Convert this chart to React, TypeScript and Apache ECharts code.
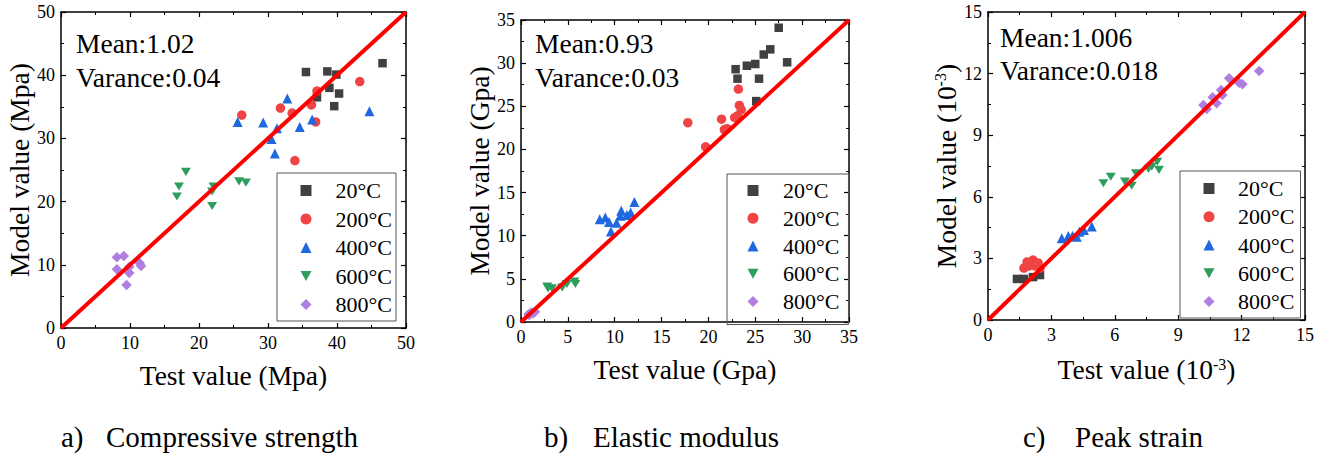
import React, { useEffect, useRef } from "react";
import * as echarts from "echarts";

const FONT = "Liberation Serif, Times New Roman, serif";

const tempNames = ["20°C", "200°C", "400°C", "600°C", "800°C"];
const colors = ["#404040", "#f04343", "#1f68e0", "#2e9e5e", "#b07ee0"];
const symbols = ["rect", "circle", "triangle", "path://M0,0L10,0L5,9Z", "diamond"];
const symbolSizes = [8.5, 9.5, 10, [10, 9], 10.5];

// a) Compressive strength (MPa): [test, model]
const cs20 = [[35.5, 40.5], [38.6, 40.6], [39.9, 40.1], [46.6, 41.9], [38.9, 38.0], [37.1, 36.5], [40.3, 37.1], [39.6, 35.1]];
const cs200 = [[26.2, 33.7], [31.8, 34.8], [33.5, 34.0], [33.9, 26.5], [36.3, 35.3], [37.1, 37.5], [36.9, 32.6], [43.3, 39.0]];
const cs400 = [[25.6, 32.6], [29.3, 32.5], [31.3, 31.6], [32.8, 36.3], [30.5, 29.9], [31.0, 27.6], [34.6, 31.8], [36.4, 33.0], [44.7, 34.3]];
const cs600 = [[18.1, 24.7], [17.1, 22.4], [16.8, 20.8], [22.1, 22.4], [21.9, 21.6], [21.9, 19.3], [25.8, 23.2], [26.8, 23.0]];
const cs800 = [[8.1, 11.2], [9.1, 11.4], [8.1, 9.3], [9.9, 9.7], [9.9, 8.7], [9.5, 6.8], [11.4, 10.3], [11.6, 9.8]];

// b) Elastic modulus (GPa)
const em20 = [[22.9, 29.3], [23.1, 28.2], [24.1, 29.7], [25.0, 29.9], [25.4, 28.2], [25.9, 31.0], [26.6, 31.6], [27.5, 34.1], [28.4, 30.1], [25.1, 25.6]];
const em200 = [[17.8, 23.1], [19.7, 20.3], [21.4, 23.5], [21.7, 22.3], [22.0, 22.4], [22.8, 23.7], [23.3, 25.1], [23.5, 24.6], [23.2, 27.0], [23.1, 23.9]];
const em400 = [[8.4, 11.9], [9.0, 12.1], [9.4, 11.6], [9.6, 10.5], [10.2, 11.5], [10.6, 12.3], [10.7, 12.9], [11.3, 12.4], [11.7, 12.7], [12.1, 13.9]];
const em600 = [[2.8, 4.1], [3.3, 3.9], [4.4, 4.0], [4.9, 4.4], [5.7, 4.7], [5.8, 4.4], [2.9, 3.9]];
const em800 = [[0.8, 0.9], [1.1, 1.1], [1.5, 1.2], [0.9, 0.8], [1.3, 1.0]];

// c) Peak strain (10^-3)
const ps20 = [[1.37, 2.0], [1.7, 2.0], [2.13, 2.09], [2.46, 2.19]];
const ps200 = [[1.7, 2.53], [1.85, 2.83], [2.13, 2.92], [2.37, 2.78], [2.46, 2.53], [1.94, 2.63], [2.22, 2.63]];
const ps400 = [[3.49, 3.98], [3.8, 4.09], [4.2, 4.06], [4.32, 4.3], [4.54, 4.38], [4.91, 4.55], [4.0, 4.1]];
const ps600 = [[5.46, 6.66], [5.81, 6.98], [6.48, 6.74], [6.8, 6.54], [7.0, 7.14], [7.59, 7.36], [7.75, 7.47], [8.01, 7.71], [8.09, 7.31]];
const ps800 = [[10.19, 10.47], [10.35, 10.28], [10.63, 10.85], [10.82, 10.55], [11.03, 11.2], [11.09, 10.96], [11.41, 11.77], [11.88, 11.56], [12.04, 11.48], [12.83, 12.13]];

const axisMax = [50, 35, 15];
const axisInterval = [10, 5, 3];
const xTitles = ["Test value (Mpa)", "Test value (Gpa)", "Test value (10{sup|-3})"];
const yTitles = ["Model value (Mpa)", "Model value (Gpa)", "Model value (10{sup|-3})"];
const meanTexts = ["Mean:1.02", "Mean:0.93", "Mean:1.006"];
const varTexts = ["Varance:0.04", "Varance:0.03", "Varance:0.018"];
const captionLetters = ["a)", "b)", "c)"];
const captionTexts = ["Compressive strength", "Elastic modulus", "Peak strain"];

const panelData = [
  [cs20, cs200, cs400, cs600, cs800],
  [em20, em200, em400, em600, em800],
  [ps20, ps200, ps400, ps600, ps800],
];

// layout (pixels)
const grids = [
  { left: 61, top: 12, width: 345, height: 316 },
  { left: 521, top: 20, width: 328, height: 302 },
  { left: 988, top: 12, width: 317, height: 308 },
];
const legendPos = [
  { left: 277, top: 173, padding: [6.5, 4, 5.5, 23.5], gap: 6.5, textGap: 19 },
  { left: 727, top: 174, padding: [5.5, 9, 12, 20.5], gap: 5.75, textGap: 19.5 },
  { left: 1180, top: 171, padding: [6.5, 6, 5.5, 23.5], gap: 6.25, textGap: 18.5 },
];
const statPos = [
  { x: 76, y1: 43, y2: 77 },
  { x: 535, y1: 43, y2: 77 },
  { x: 1000, y1: 37, y2: 70 },
];
const captionPos = [
  { x1: 61, x2: 106 },
  { x1: 544, x2: 593 },
  { x1: 1023, x2: 1075 },
];

const richSup = {
  sup: { fontSize: 16, fontFamily: FONT, color: "#000", verticalAlign: "top", lineHeight: 27 },
};

function buildOption() {
  const xAxis: any[] = [];
  const yAxis: any[] = [];
  const series: any[] = [];
  const legend: any[] = [];
  const graphic: any[] = [];

  const common = (max: number, interval: number) => ({
    type: "value",
    min: 0,
    max,
    interval,
    axisLine: { show: true, onZero: false, lineStyle: { color: "#000", width: 1.5 } },
    axisTick: { show: true, inside: true, length: 5, lineStyle: { color: "#000", width: 1.2 } },
    minorTick: { show: true, splitNumber: 2, length: 3, lineStyle: { color: "#000", width: 1 } },
    splitLine: { show: false },
    minorSplitLine: { show: false },
  });

  const textStyle = (size: number) => ({
    fontSize: size,
    fontFamily: FONT,
    fill: "#000",
    align: "left",
    verticalAlign: "middle",
  });

  grids.forEach((g, i) => {
    const max = axisMax[i];
    const iv = axisInterval[i];
    xAxis.push({
      ...common(max, iv),
      gridIndex: i,
      position: "bottom",
      axisLabel: { color: "#000", fontSize: 18, fontFamily: FONT, margin: 6 },
      name: xTitles[i],
      nameLocation: "middle",
      nameGap: i === 2 ? 36 : 34,
      nameTextStyle: { color: "#000", fontSize: 27.5, fontFamily: FONT, lineHeight: 27, rich: richSup },
    });
    xAxis.push({
      ...common(max, iv),
      gridIndex: i,
      position: "top",
      axisLabel: { show: false },
    });
    yAxis.push({
      ...common(max, iv),
      gridIndex: i,
      position: "left",
      axisLabel: { color: "#000", fontSize: 18, fontFamily: FONT, margin: 6 },
      name: yTitles[i],
      nameLocation: "middle",
      nameRotate: 90,
      nameGap: i === 0 ? 28 : 26,
      nameTextStyle: { color: "#000", fontSize: 27.5, fontFamily: FONT, lineHeight: 27, rich: richSup },
    });
    yAxis.push({
      ...common(max, iv),
      gridIndex: i,
      position: "right",
      axisLabel: { show: false },
    });

    panelData[i].forEach((d, k) => {
      series.push({
        type: "scatter",
        name: tempNames[k],
        xAxisIndex: 2 * i,
        yAxisIndex: 2 * i,
        data: d,
        symbol: symbols[k],
        symbolSize: symbolSizes[k],
        symbolKeepAspect: true,
        itemStyle: { color: colors[k], opacity: 1 },
        z: 2,
      });
    });
    series.push({
      type: "line",
      name: "fit" + i,
      xAxisIndex: 2 * i,
      yAxisIndex: 2 * i,
      data: [[0, 0], [max, max]],
      symbol: "none",
      lineStyle: { color: "#ff0000", width: 4 },
      z: 5,
      silent: true,
      clip: true,
    });

    const lp = legendPos[i];
    legend.push({
      orient: "vertical",
      left: lp.left,
      top: lp.top,
      padding: lp.padding,
      itemGap: lp.gap,
      itemWidth: 11,
      itemHeight: 11,
      borderColor: "#555",
      borderWidth: 1,
      selectedMode: false,
      data: tempNames,
      formatter: (name: string) => "{g|}" + name,
      textStyle: {
        color: "#000",
        fontSize: 22,
        fontFamily: FONT,
        rich: { g: { width: lp.textGap } },
      },
    });

    const sp = statPos[i];
    graphic.push({ type: "text", x: sp.x, y: sp.y1, z: 10, style: { text: meanTexts[i], ...textStyle(27.5) } });
    graphic.push({ type: "text", x: sp.x, y: sp.y2, z: 10, style: { text: varTexts[i], ...textStyle(27.5) } });
    const cp = captionPos[i];
    graphic.push({ type: "text", x: cp.x1, y: 437, style: { text: captionLetters[i], ...textStyle(29) } });
    graphic.push({ type: "text", x: cp.x2, y: 437, style: { text: captionTexts[i], ...textStyle(29) } });
  });

  return {
    animation: false,
    backgroundColor: "#ffffff",
    textStyle: { fontFamily: FONT },
    grid: grids.map((g) => ({ ...g, containLabel: false })),
    xAxis,
    yAxis,
    legend,
    series,
    graphic,
  };
}

export default function App() {
  const ref = useRef<HTMLDivElement>(null);
  useEffect(() => {
    if (!ref.current) return;
    const chart = echarts.init(ref.current, undefined, { renderer: "svg" });
    chart.setOption(buildOption() as any);
    return () => chart.dispose();
  }, []);
  return (
    <div
      ref={ref}
      style={{ position: "absolute", left: 0, top: 0, width: 1330, height: 457, background: "#fff" }}
    />
  );
}
